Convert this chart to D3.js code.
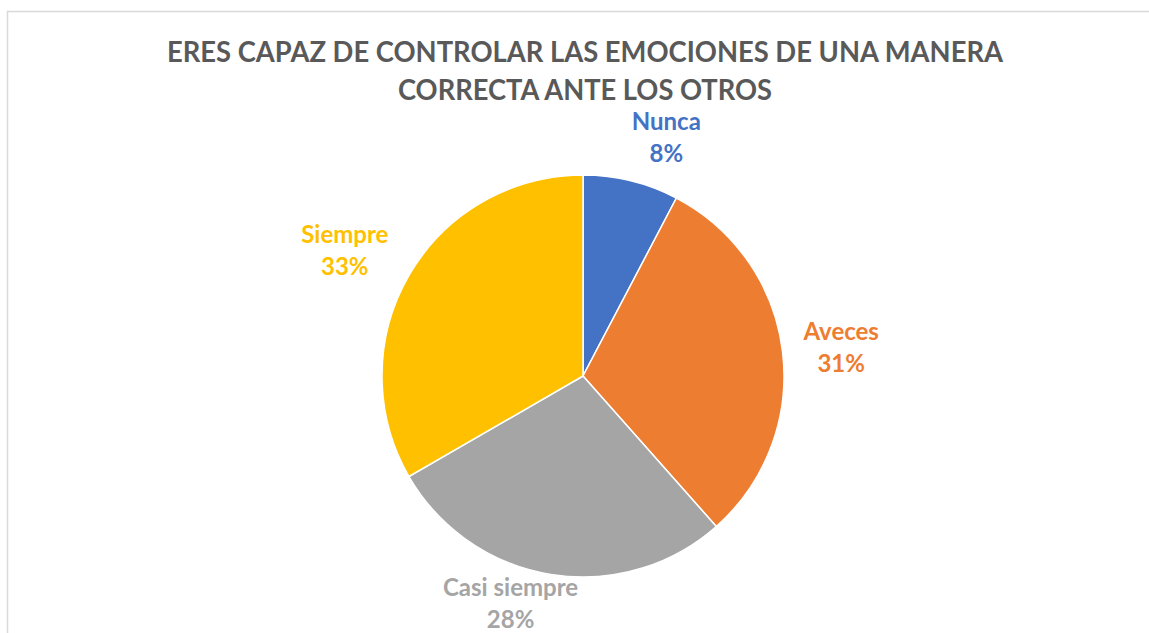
<!DOCTYPE html>
<meta charset="utf-8">
<title>Control de emociones</title>
<script src="https://d3js.org/d3.v7.min.js"></script>
<style>
  body { margin: 0; background: #fff; }
  text { font-family: Lato, "Open Sans", sans-serif; font-weight: bold; }
</style>
<body>
<script>

// respuestas (n = 39)
var categories = ["Nunca", "Aveces", "Casi siempre", "Siempre"];
var counts = [3, 12, 11, 13];
var colors = ["#4472C4", "#ED7D31", "#A5A5A5", "#FFC000"];
var titleLines = ["ERES CAPAZ DE CONTROLAR LAS EMOCIONES DE UNA MANERA", "CORRECTA ANTE LOS OTROS"];

// small hand offsets so labels sit where the spreadsheet put them
var labelNudge = {"Nunca": [23, 7], "Aveces": [8, 2], "Casi siempre": [-32, -21], "Siempre": [-20, 1]};

var width = 1149, height = 633;
var cx = 583, cy = 376, radius = 201;

var svg = d3.select("body").append("svg")
    .attr("width", width)
    .attr("height", height);

// chart frame (runs off the right and bottom edge)
svg.append("rect")
    .attr("x", 7.5).attr("y", 11.5)
    .attr("width", width).attr("height", height)
    .attr("fill", "none")
    .attr("stroke", "#d9d9d9")
    .attr("stroke-width", 1.5);

// title
var titleLen = [836, 374];
svg.append("g").selectAll("text")
    .data(titleLines)
  .enter().append("text")
    .attr("x", 585)
    .attr("y", function(d, i) { return 62 + i * 38; })
    .attr("text-anchor", "middle")
    .attr("fill", "#595959")
    .style("font-size", "28px")
    .attr("textLength", function(d, i) { return titleLen[i]; })
    .attr("lengthAdjust", "spacingAndGlyphs")
    .text(function(d) { return d; });

var total = d3.sum(counts);
var data = categories.map(function(c, i) { return {name: c, value: counts[i], color: colors[i]}; });

var pie = d3.pie().sort(null).value(function(d) { return d.value; });
var arcs = pie(data);

var arc = d3.arc().innerRadius(0).outerRadius(radius);
var labelArc = d3.arc().innerRadius(252).outerRadius(252);

var g = svg.append("g").attr("transform", "translate(" + cx + "," + cy + ")");

g.selectAll("path")
    .data(arcs)
  .enter().append("path")
    .attr("d", arc)
    .attr("fill", function(d) { return d.data.color; })
    .attr("stroke", "#fff")
    .attr("stroke-width", 1.5);

var labels = g.selectAll("g.label")
    .data(arcs)
  .enter().append("g")
    .attr("class", "label")
    .attr("transform", function(d) {
      var c = labelArc.centroid(d), n = labelNudge[d.data.name];
      return "translate(" + (c[0] + n[0]) + "," + (c[1] + n[1]) + ")";
    });

labels.append("text")
    .attr("text-anchor", "middle")
    .attr("y", -8)
    .attr("fill", function(d) { return d.data.color; })
    .style("font-size", "24px")
    .text(function(d) { return d.data.name; });

labels.append("text")
    .attr("text-anchor", "middle")
    .attr("y", 24)
    .attr("fill", function(d) { return d.data.color; })
    .style("font-size", "24px")
    .text(function(d) { return Math.round(d.data.value / total * 100) + "%"; });

</script>
</body>
